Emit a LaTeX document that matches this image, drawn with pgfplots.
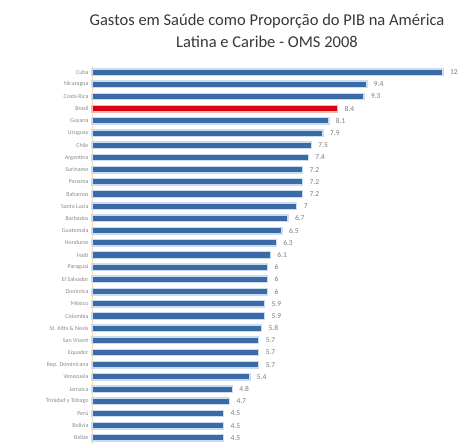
\documentclass[border=0pt]{standalone}
\usepackage{pgfplots}
\pgfplotsset{compat=1.18}
\usepackage{fontspec}
\setmainfont{Carlito}
\definecolor{barblue}{HTML}{3B6BA6}
\definecolor{halo}{HTML}{C9DCF0}
\definecolor{barred}{HTML}{D9000F}
\definecolor{halored}{HTML}{F4B8B8}
\definecolor{txtgray}{HTML}{7A7A7A}
\definecolor{lblgray}{HTML}{8A8A8A}
\pgfplotstableread{
y val
0 12
1 9.4
2 9.3
3 8.4
4 8.1
5 7.9
6 7.5
7 7.4
8 7.2
9 7.2
10 7.2
11 7
12 6.7
13 6.5
14 6.3
15 6.1
16 6
17 6
18 6
19 5.9
20 5.9
21 5.8
22 5.7
23 5.7
24 5.7
25 5.4
26 4.8
27 4.7
28 4.5
29 4.5
30 4.5
}\datatable
\pgfplotstableread{
y val
3 8.4
}\brasil
\begin{document}
\begin{tikzpicture}
\useasboundingbox (0,0) rectangle (464pt,444pt);
\node[font=\fontsize{16.5}{22}\selectfont, text=black!78, align=center] at (267pt,413pt) {Gastos em Saúde como Proporção do PIB na América\\Latina e Caribe - OMS 2008};
\begin{axis}[
  at={(92pt,0pt)}, anchor=south west,
  scale only axis,
  width=351pt, height=378pt,
  xmin=0, xmax=12,
  ymin=-0.5, ymax=30.5,
  y dir=reverse,
  xbar, bar width=6.5pt, bar shift=0pt,
  axis x line=none,
  axis y line*=left,
  y axis line style={draw=orange!30, line width=0.4pt},
  ytick={0,...,30},
  yticklabels={Cuba,Nicaragua,Costa Rica,Brasil,Guyana,Uruguay,Chile,Argentina,Suriname,Panama,Bahamas,Santa Lucia,Barbados,Guatemala,Honduras,Haiti,Paraguai,El Salvador,Dominica,México,Colombia,St. Kitts \& Nevis,San Vicent,Equador,Rep. Dominicana,Venezuela,Jamaica,Trinidad y Tobago,Perú,Bolivia,Belize},
  yticklabel style={font=\fontsize{6}{7}\selectfont, text=lblgray},
  major tick length=0pt,
  clip=false,
  point meta=explicit,
  nodes near coords style={font=\fontsize{7.5}{8}\selectfont, text=txtgray, anchor=west, xshift=3pt, /pgf/number format/assume math mode=true},
]
\addplot[fill=barblue, draw=halo, line width=1.4pt, nodes near coords] table[x=val, y=y, meta=val] {\datatable};
\addplot[fill=barred, draw=halored, line width=1.4pt] table[x=val, y=y, meta=val] {\brasil};
\end{axis}
\end{tikzpicture}
\end{document}
